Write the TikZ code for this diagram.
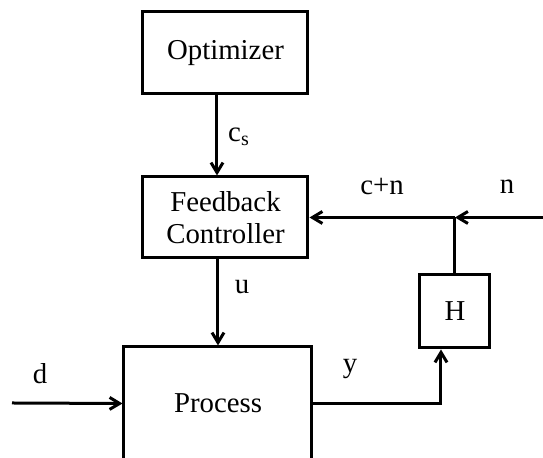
\documentclass[tikz,border=0pt]{standalone}
\usepackage{fontspec}
\setmainfont{Liberation Serif}
\usetikzlibrary{arrows.meta}

\tikzset{
  block/.style={draw, line width=1.5pt, align=center, inner sep=0pt,
    font=\fontsize{14.4pt}{16pt}\selectfont},
  sig/.style={font=\fontsize{14.4pt}{16pt}\selectfont, inner sep=0pt}
}

\begin{document}
\begin{tikzpicture}[x=0.5pt, y=-0.5pt, line width=1.5pt, >={Straight Barb[length=5pt,width=6pt]}]
        \clip (0,0) rectangle (543,458);
        % blocks
        \node[block, minimum width=82.5pt, minimum height=41pt] (opt) at (225.5,53) {Optimizer};
        \node[block, minimum width=82.5pt, minimum height=40.5pt] (fb) at (225.5,217.5) {Feedback\\Controller};
        \node[block, minimum width=94pt, minimum height=56.5pt] (proc) at (218,403.5) {Process};
        \node[block, minimum width=35pt, minimum height=36.5pt] (H) at (455,311.5) {H};
        % signals
        \coordinate (din) at (12,403);
        \coordinate (nin) at (543,217.5);
        \coordinate (j) at (H.north |- fb.east);
        \draw[->] ([xshift=-4.25pt]opt.south) -- ([xshift=-4.25pt]fb.north);
        \draw[->] (proc.north |- fb.south) -- (proc.north);
        \draw[->] (din) -- (proc.west);
        \draw[->] (proc.east) -| ([xshift=-7pt]H.south);
        \draw (H.north) -- (j);
        \draw[->] (nin) -- (j);
        \draw[->] (j) -- (fb.east);
        % labels
        \node[sig] (cs) at (239,137) {c\textsubscript{s}};
        \node[sig] (u) at (242,287) {u};
        \node[sig] (d) at (40,374) {d};
        \node[sig] (y) at (350,369) {y};
        \node[sig] (cn) at (382,187) {c+n};
        \node[sig] (n) at (507,187) {n};
    \end{tikzpicture}
\end{document}
